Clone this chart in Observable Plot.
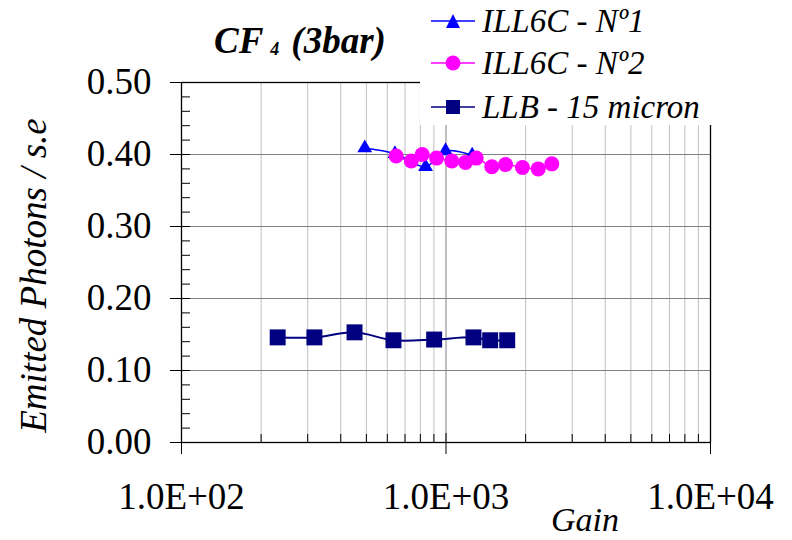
<!DOCTYPE html>
<html><head><meta charset="utf-8">
<script src="https://cdn.jsdelivr.net/npm/d3@7"></script>
<script src="https://cdn.jsdelivr.net/npm/@observablehq/plot@0.6"></script>
<style>
body{margin:0;background:#fff;}
#wrap{position:relative;width:792px;height:540px;font-family:"Liberation Serif","Times New Roman",serif;color:#000;}
#title{position:absolute;left:214px;top:22px;font-weight:bold;font-style:italic;font-size:37px;line-height:37px;white-space:nowrap;}
#title .sub{font-size:18px;position:relative;top:2px;margin-left:7px;margin-right:12px;}
#legend{position:absolute;left:420px;top:0;width:372px;height:125px;background:#fff;}
.row{position:absolute;left:0;height:40px;display:flex;align-items:center;font-style:italic;font-size:33px;white-space:nowrap;}
.row svg{margin-left:11px;margin-right:7px;}
</style></head>
<body><div id="wrap"></div>
<script>
// ---- data ----
const seriesNames = ["ILL6C - Nº1", "ILL6C - Nº2", "LLB - 15 micron"];
const ill1Gain = [493, 641, 837, 996, 1256];
const ill1Val  = [0.409, 0.401, 0.383, 0.405, 0.399];
const ill2Gain = [648, 739, 813, 921, 1052, 1185, 1301, 1490, 1679, 1946, 2232, 2512];
const ill2Val  = [0.398, 0.391, 0.400, 0.395, 0.391, 0.389, 0.395, 0.383, 0.386, 0.382, 0.380, 0.387];
const llbGain  = [231, 318, 451, 633, 902, 1270, 1469, 1704];
const llbVal   = [0.146, 0.146, 0.153, 0.142, 0.143, 0.146, 0.142, 0.142];
const xTickValues = [100, 1000, 10000];
const xTickLabels = ["1.0E+02", "1.0E+03", "1.0E+04"];
const yTickValues = [0, 0.1, 0.2, 0.3, 0.4, 0.5];
const yTickLabels = ["0.00", "0.10", "0.20", "0.30", "0.40", "0.50"];
const titleMain = "CF", titleSub = "4", titleRest = "(3bar)";
const xLabel = "Gain", yLabel = "Emitted Photons / s.e";

// ---- derived ----
const ill1 = ill1Gain.map((g, i) => ({g, v: ill1Val[i]}));
const ill2 = ill2Gain.map((g, i) => ({g, v: ill2Val[i]}));
const llb  = llbGain.map((g, i) => ({g, v: llbVal[i]}));
const xMinor = [];
for (const dec of [100, 1000]) for (let k = 2; k <= 9; k++) xMinor.push(k * dec);
const yMinor = d3.range(0, 0.5001, 0.02).filter(v => Math.abs(v * 10 - Math.round(v * 10)) > 1e-6);
const yGrid = [0.1, 0.2, 0.3, 0.4];

const W = 792, H = 540, mL = 181, mR = 82, mT = 82, mB = 98;
const innerW = W - mL - mR, innerH = H - mT - mB;
const colors = ["#0000ff", "#ff00ff", "#000080"];
const font = "Liberation Serif, Times New Roman, serif";

const plot = Plot.plot({
  width: W, height: H,
  marginLeft: mL, marginRight: mR, marginTop: mT, marginBottom: mB,
  x: {type: "log", domain: [100, 10000], axis: null},
  y: {domain: [0, 0.5], axis: null},
  style: {fontFamily: font, background: "white", color: "black"},
  marks: [
    Plot.ruleX(xMinor, {x: d => d, stroke: "#c0c0c0", strokeWidth: 1}),
    Plot.ruleX([1000], {x: d => d, stroke: "#808080", strokeWidth: 1}),
    Plot.ruleY(yGrid, {y: d => d, stroke: "#808080", strokeWidth: 1}),
    Plot.frame({stroke: "black", strokeWidth: 1.3}),
    Plot.tickY(yMinor, {y: d => d, insetRight: innerW - 9, stroke: "black"}),
    Plot.tickY(yTickValues, {y: d => d, insetLeft: -11, insetRight: innerW - 9, stroke: "black"}),
    Plot.tickX(xMinor, {x: d => d, insetTop: innerH - 8, stroke: "black"}),
    Plot.tickX(xTickValues, {x: d => d, insetTop: innerH - 9, insetBottom: -12, stroke: "black"}),
    Plot.text(yTickValues, {y: d => d, text: (d, i) => yTickLabels[i], frameAnchor: "left", textAnchor: "end", dx: -30, fontSize: 37, fill: "black"}),
    Plot.text(xTickValues, {x: d => d, text: (d, i) => xTickLabels[i], frameAnchor: "bottom", lineAnchor: "middle", dy: 55, fontSize: 37, fill: "black"}),
    Plot.text([xLabel], {frameAnchor: "bottom", textAnchor: "middle", dx: 139, dy: 78, lineAnchor: "middle", fontSize: 34, fontStyle: "italic", fill: "black"}),
    Plot.text([yLabel], {frameAnchor: "left", textAnchor: "middle", rotate: -90, dx: -147, dy: 13, lineAnchor: "middle", fontSize: 37, fontStyle: "italic", fill: "black"}),
    Plot.line(ill1, {x: "g", y: "v", stroke: colors[0], strokeWidth: 1.5, curve: "catmull-rom"}),
    Plot.dot(ill1, {x: "g", y: "v", symbol: "triangle", r: 5.5, fill: colors[0]}),
    Plot.line(ill2, {x: "g", y: "v", stroke: colors[1], strokeWidth: 1.5, curve: "catmull-rom"}),
    Plot.dot(ill2, {x: "g", y: "v", symbol: "circle", r: 7.5, fill: colors[1]}),
    Plot.line(llb, {x: "g", y: "v", stroke: colors[2], strokeWidth: 2, curve: "catmull-rom"}),
    Plot.dot(llb, {x: "g", y: "v", symbol: "square", r: 9, fill: colors[2]})
  ]
});

const wrap = document.getElementById("wrap");
wrap.appendChild(plot);

// title
const t = document.createElement("div");
t.id = "title";
t.innerHTML = `${titleMain}<span class="sub">${titleSub}</span>${titleRest}`;
wrap.appendChild(t);

// legend
const leg = document.createElement("div");
leg.id = "legend";
const rowCenters = [21, 63, 107];
const symbols = [
  c => `<path d="M22,3 L29,17 L15,17 Z" fill="${c}"/>`,
  c => `<circle cx="22" cy="10" r="7.5" fill="${c}"/>`,
  c => `<rect x="15" y="3" width="14" height="14" fill="${c}"/>`
];
seriesNames.forEach((name, i) => {
  const r = document.createElement("div");
  r.className = "row";
  r.style.top = (rowCenters[i] - 20) + "px";
  r.innerHTML = `<svg width="44" height="20"><line x1="0" y1="10" x2="44" y2="10" stroke="${colors[i]}" stroke-width="1.5"/>${symbols[i](colors[i])}</svg><span>${name}</span>`;
  leg.appendChild(r);
});
wrap.appendChild(leg);
</script>
</body></html>
